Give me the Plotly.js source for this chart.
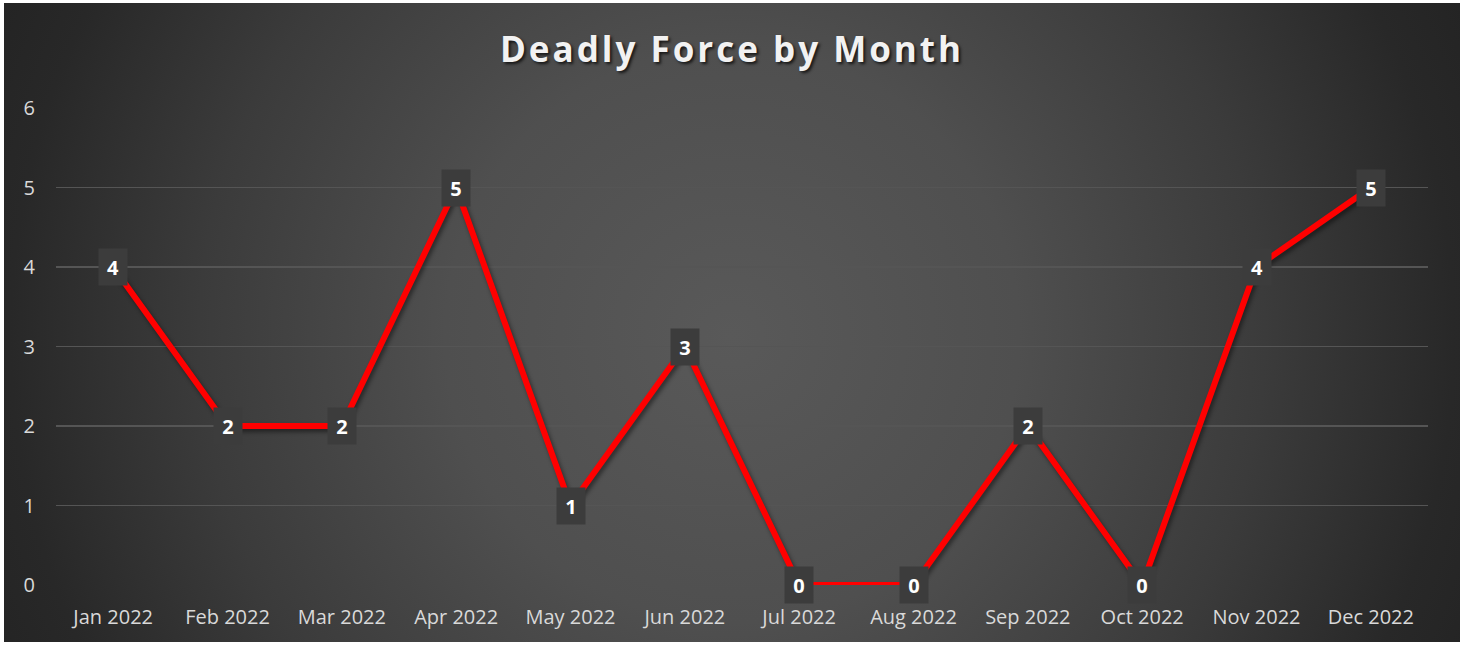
<!DOCTYPE html>
<html>
<head>
<meta charset="utf-8">
<script src="https://cdn.plot.ly/plotly-3.0.1.min.js"></script>
<style>
  html, body { margin: 0; padding: 0; background: #ffffff; width: 1465px; height: 645px; overflow: hidden; }
  #wrap {
    position: absolute; left: 4px; top: 3px; width: 1456px; height: 639px;
    background: radial-gradient(circle 820px at 50% 52%, #595959 0%, #4f4f4f 35%, #3b3b3b 65%, #282828 88%, #232323 100%);
  }
  #chart { width: 1456px; height: 639px; }
  .gtitle { letter-spacing: 3px; }
  .scatterlayer .js-line { filter: drop-shadow(2px 3px 2px rgba(0,0,0,0.45)); }
</style>
</head>
<body>
<div id="wrap"><div id="chart"></div></div>
<script>
const months = ["Jan 2022","Feb 2022","Mar 2022","Apr 2022","May 2022","Jun 2022",
                "Jul 2022","Aug 2022","Sep 2022","Oct 2022","Nov 2022","Dec 2022"];
const deadlyForce = [4, 2, 2, 5, 1, 3, 0, 0, 2, 0, 4, 5];
const yTicks = [0, 1, 2, 3, 4, 5, 6];

const FONT = "'Open Sans', 'DejaVu Sans', sans-serif";

const annotations = months.map((m, i) => ({
  x: m, y: deadlyForce[i], xref: "x", yref: "y",
  text: "<b>" + deadlyForce[i] + "</b>",
  showarrow: false,
  font: { family: FONT, size: 20, color: "#ffffff" },
  bgcolor: "#3c3c3c",
  width: 28, height: 36,
  align: "center", valign: "middle",
  borderpad: 0
}));

const trace = {
  type: "scatter", mode: "lines",
  x: months, y: deadlyForce,
  line: { color: "#ff0000", width: 6 },
  hoverinfo: "skip"
};

const layout = {
  width: 1456, height: 639,
  paper_bgcolor: "rgba(0,0,0,0)",
  plot_bgcolor: "rgba(0,0,0,0)",
  margin: { l: 52, r: 32, t: 105, b: 57 },
  showlegend: false,
  title: {
    text: "<b>Deadly Force by Month</b>",
    font: { family: FONT, size: 35, color: "#f2f2f2", shadow: "2px 2px 3px rgba(0,0,0,0.7)" },
    x: 0.5, xanchor: "center",
    y: 1 - 47 / 639, yref: "container", yanchor: "middle"
  },
  xaxis: {
    type: "category", range: [-0.5, 11.5],
    showgrid: false, zeroline: false, showline: false,
    ticks: "", tickfont: { family: FONT, size: 20, color: "#d9d9d9" },
    ticklabelstandoff: 18, fixedrange: true
  },
  yaxis: {
    range: [0, 6], tickvals: yTicks, ticktext: yTicks.map(String),
    showgrid: true, gridcolor: "#555555", gridwidth: 1.5,
    zeroline: false, showline: false, ticks: "",
    tickfont: { family: FONT, size: 20, color: "#d9d9d9" },
    ticklabelstandoff: 20, fixedrange: true
  },
  annotations: annotations
};

Plotly.newPlot("chart", [trace], layout, { displayModeBar: false, staticPlot: true });
</script>
</body>
</html>
